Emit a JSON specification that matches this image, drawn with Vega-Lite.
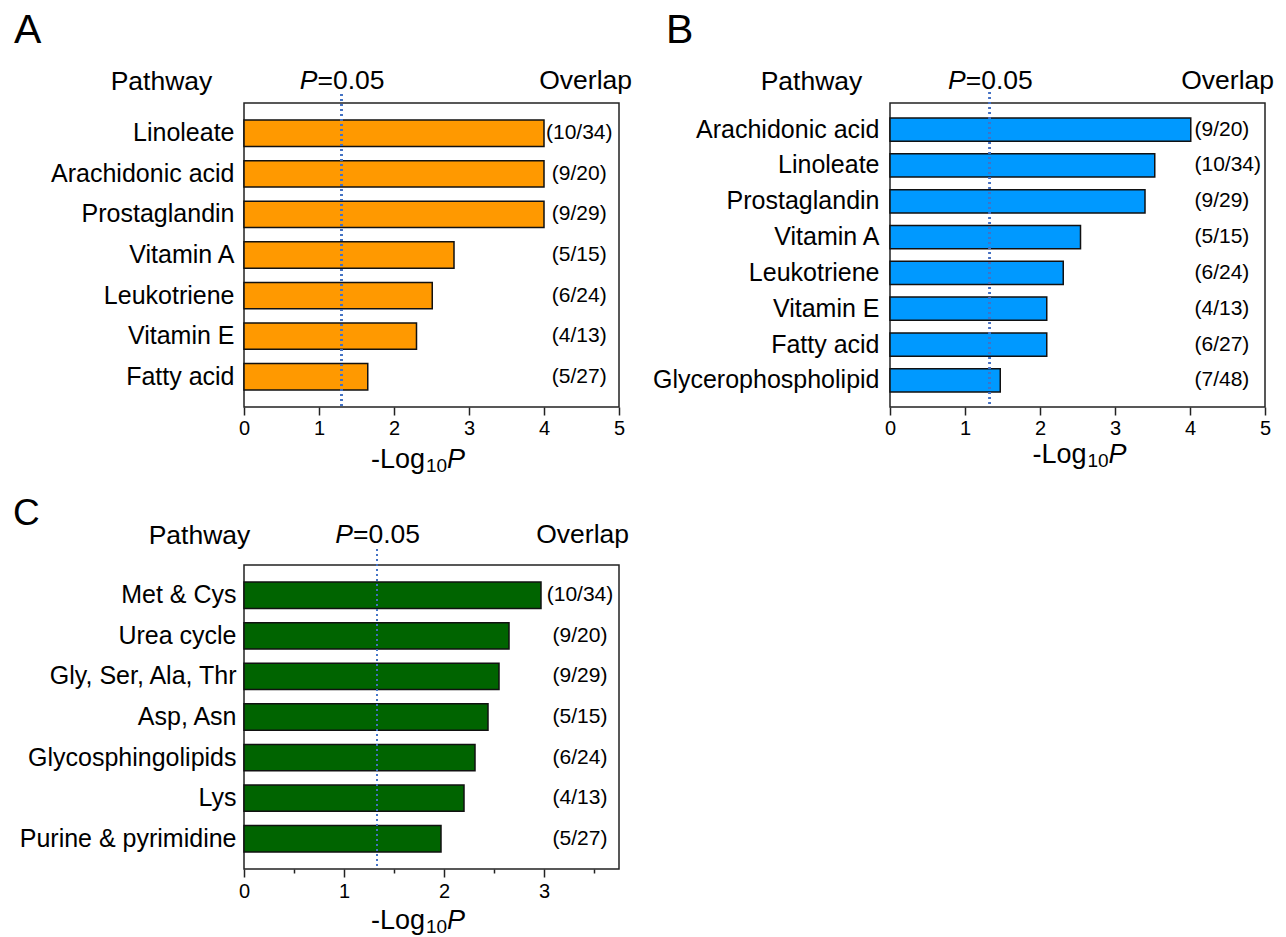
{
  "$schema": "https://vega.github.io/schema/vega-lite/v6.json",
  "background": "white",
  "padding": {"left": 12, "top": 9, "right": 5, "bottom": 2},
  "config": {
    "font": "Liberation Sans",
    "view": {"stroke": "#222", "strokeWidth": 1.5},
    "axis": {"domain": false, "grid": false, "labelColor": "#000", "titleColor": "#000", "tickColor": "#222", "labelFont": "Liberation Sans", "titleFont": "Liberation Sans"},
    "text": {"font": "Liberation Sans", "color": "#000"}
  },
  "columns": 2,
  "bounds": "flush",
  "spacing": {"row": 158, "column": 271},
  "concat": [
    {
      "width": 375,
      "height": 304,
      "data": {"values": [
        {"Pathway": "Linoleate", "NegLogP": 4.0, "Overlap": "(10/34)"},
        {"Pathway": "Arachidonic acid", "NegLogP": 4.0, "Overlap": "(9/20)"},
        {"Pathway": "Prostaglandin", "NegLogP": 4.0, "Overlap": "(9/29)"},
        {"Pathway": "Vitamin A", "NegLogP": 2.8, "Overlap": "(5/15)"},
        {"Pathway": "Leukotriene", "NegLogP": 2.51, "Overlap": "(6/24)"},
        {"Pathway": "Vitamin E", "NegLogP": 2.3, "Overlap": "(4/13)"},
        {"Pathway": "Fatty acid", "NegLogP": 1.65, "Overlap": "(5/27)"}
      ]},
      "layer": [
        {
          "mark": {"type": "bar", "fill": "#FF9900", "stroke": "#111", "strokeWidth": 1.5},
          "encoding": {
            "y": {"field": "Pathway", "type": "nominal",
              "scale": {"domain": ["Linoleate", "Arachidonic acid", "Prostaglandin", "Vitamin A", "Leukotriene", "Vitamin E", "Fatty acid"], "paddingInner": 0.35, "paddingOuter": 0.42},
              "axis": {"title": "Pathway", "titleAngle": 0, "titleX": -83, "titleY": -14, "titleAlign": "center", "titleBaseline": "alphabetic", "titleFontSize": 26.5, "titleFontWeight": "normal", "labelFontSize": 25, "labelPadding": 10, "labelLimit": 400, "ticks": false}},
            "x": {"field": "NegLogP", "type": "quantitative",
              "scale": {"domain": [0, 5], "nice": false, "zero": true},
              "axis": {"title": null, "values": [0, 0.5, 1, 1.5, 2, 2.5, 3, 3.5, 4, 4.5, 5], "labelExpr": "datum.value % 1 === 0 ? '' + datum.value : ''", "tickSize": {"condition": {"test": "datum.value % 1 === 0", "value": 8}, "value": 4}, "tickWidth": 1.5, "labelFontSize": 20, "labelPadding": 3, "labelFlush": false, "labelOverlap": false}}
          }
        },
        {
          "mark": {"type": "rule", "color": "#4472C4", "strokeWidth": 2, "strokeDash": [2, 3], "yOffset": -9, "y2Offset": 6},
          "encoding": {"x": {"datum": 1.30}}
        },
        {
          "mark": {"type": "text", "fontSize": 21, "align": "center", "baseline": "middle"},
          "encoding": {"x": {"datum": 4.47}, "y": {"field": "Pathway", "type": "nominal"}, "text": {"field": "Overlap"}}
        },
        {"data": {"values": [{}]}, "mark": {"type": "text", "text": "A", "fontSize": 41, "align": "left", "baseline": "alphabetic", "dx": -230, "dy": -90.2}, "encoding": {"x": {"datum": 0}, "y": {"datum": "Linoleate"}}},
        {"data": {"values": [{}]}, "mark": {"type": "text", "text": "P", "fontStyle": "italic", "fontSize": 26.5, "align": "right", "baseline": "alphabetic", "dx": -24, "dy": -44.2}, "encoding": {"x": {"datum": 1.30}, "y": {"datum": "Linoleate"}}},
        {"data": {"values": [{}]}, "mark": {"type": "text", "text": "=0.05", "fontSize": 26.5, "align": "left", "baseline": "alphabetic", "dx": -24, "dy": -44.2}, "encoding": {"x": {"datum": 1.30}, "y": {"datum": "Linoleate"}}},
        {"data": {"values": [{}]}, "mark": {"type": "text", "text": "Overlap", "fontSize": 26.5, "align": "right", "baseline": "alphabetic", "dx": 13, "dy": -44.2}, "encoding": {"x": {"datum": 5}, "y": {"datum": "Linoleate"}}},
        {"data": {"values": [{}]}, "mark": {"type": "text", "text": "-Log", "fontSize": 27, "align": "left", "baseline": "alphabetic", "dy": 334.8}, "encoding": {"x": {"datum": 1.693}, "y": {"datum": "Linoleate"}}},
        {"data": {"values": [{}]}, "mark": {"type": "text", "text": "10", "fontSize": 19, "align": "left", "baseline": "alphabetic", "dx": 55, "dy": 338.8}, "encoding": {"x": {"datum": 1.693}, "y": {"datum": "Linoleate"}}},
        {"data": {"values": [{}]}, "mark": {"type": "text", "text": "P", "fontStyle": "italic", "fontSize": 27, "align": "left", "baseline": "alphabetic", "dx": 76, "dy": 334.8}, "encoding": {"x": {"datum": 1.693}, "y": {"datum": "Linoleate"}}}
      ]
    },
    {
      "width": 375,
      "height": 304,
      "data": {"values": [
        {"Pathway": "Arachidonic acid", "NegLogP": 4.01, "Overlap": "(9/20)"},
        {"Pathway": "Linoleate", "NegLogP": 3.53, "Overlap": "(10/34)"},
        {"Pathway": "Prostaglandin", "NegLogP": 3.40, "Overlap": "(9/29)"},
        {"Pathway": "Vitamin A", "NegLogP": 2.54, "Overlap": "(5/15)"},
        {"Pathway": "Leukotriene", "NegLogP": 2.31, "Overlap": "(6/24)"},
        {"Pathway": "Vitamin E", "NegLogP": 2.09, "Overlap": "(4/13)"},
        {"Pathway": "Fatty acid", "NegLogP": 2.09, "Overlap": "(6/27)"},
        {"Pathway": "Glycerophospholipid", "NegLogP": 1.47, "Overlap": "(7/48)"}
      ]},
      "layer": [
        {
          "mark": {"type": "bar", "fill": "#0099FF", "stroke": "#111", "strokeWidth": 1.5},
          "encoding": {
            "y": {"field": "Pathway", "type": "nominal",
              "scale": {"domain": ["Arachidonic acid", "Linoleate", "Prostaglandin", "Vitamin A", "Leukotriene", "Vitamin E", "Fatty acid", "Glycerophospholipid"], "paddingInner": 0.35, "paddingOuter": 0.42},
              "axis": {"title": "Pathway", "titleAngle": 0, "titleX": -79, "titleY": -14, "titleAlign": "center", "titleBaseline": "alphabetic", "titleFontSize": 26.5, "titleFontWeight": "normal", "labelFontSize": 25, "labelPadding": 11, "labelLimit": 400, "ticks": false}},
            "x": {"field": "NegLogP", "type": "quantitative",
              "scale": {"domain": [0, 5], "nice": false, "zero": true},
              "axis": {"title": null, "values": [0, 0.5, 1, 1.5, 2, 2.5, 3, 3.5, 4, 4.5, 5], "labelExpr": "datum.value % 1 === 0 ? '' + datum.value : ''", "tickSize": {"condition": {"test": "datum.value % 1 === 0", "value": 8}, "value": 4}, "tickWidth": 1.5, "labelFontSize": 20, "labelPadding": 3, "labelFlush": false, "labelOverlap": false}}
          }
        },
        {
          "mark": {"type": "rule", "color": "#4472C4", "strokeWidth": 2, "strokeDash": [2, 3], "yOffset": -11, "y2Offset": 5},
          "encoding": {"x": {"datum": 1.33}}
        },
        {
          "mark": {"type": "text", "fontSize": 21, "align": "left", "baseline": "middle"},
          "encoding": {"x": {"datum": 4.06}, "y": {"field": "Pathway", "type": "nominal"}, "text": {"field": "Overlap"}}
        },
        {"data": {"values": [{}]}, "mark": {"type": "text", "text": "B", "fontSize": 41, "align": "left", "baseline": "alphabetic", "dx": -224, "dy": -86.7}, "encoding": {"x": {"datum": 0}, "y": {"datum": "Arachidonic acid"}}},
        {"data": {"values": [{}]}, "mark": {"type": "text", "text": "P", "fontStyle": "italic", "fontSize": 26.5, "align": "right", "baseline": "alphabetic", "dx": -24, "dy": -40.7}, "encoding": {"x": {"datum": 1.33}, "y": {"datum": "Arachidonic acid"}}},
        {"data": {"values": [{}]}, "mark": {"type": "text", "text": "=0.05", "fontSize": 26.5, "align": "left", "baseline": "alphabetic", "dx": -24, "dy": -40.7}, "encoding": {"x": {"datum": 1.33}, "y": {"datum": "Arachidonic acid"}}},
        {"data": {"values": [{}]}, "mark": {"type": "text", "text": "Overlap", "fontSize": 26.5, "align": "right", "baseline": "alphabetic", "dx": 9, "dy": -40.7}, "encoding": {"x": {"datum": 5}, "y": {"datum": "Arachidonic acid"}}},
        {"data": {"values": [{}]}, "mark": {"type": "text", "text": "-Log", "fontSize": 27, "align": "left", "baseline": "alphabetic", "dy": 333.3}, "encoding": {"x": {"datum": 1.90}, "y": {"datum": "Arachidonic acid"}}},
        {"data": {"values": [{}]}, "mark": {"type": "text", "text": "10", "fontSize": 19, "align": "left", "baseline": "alphabetic", "dx": 55, "dy": 337.3}, "encoding": {"x": {"datum": 1.90}, "y": {"datum": "Arachidonic acid"}}},
        {"data": {"values": [{}]}, "mark": {"type": "text", "text": "P", "fontStyle": "italic", "fontSize": 27, "align": "left", "baseline": "alphabetic", "dx": 76, "dy": 333.3}, "encoding": {"x": {"datum": 1.90}, "y": {"datum": "Arachidonic acid"}}}
      ]
    },
    {
      "width": 375,
      "height": 304,
      "data": {"values": [
        {"Pathway": "Met & Cys", "NegLogP": 2.97, "Overlap": "(10/34)"},
        {"Pathway": "Urea cycle", "NegLogP": 2.65, "Overlap": "(9/20)"},
        {"Pathway": "Gly, Ser, Ala, Thr", "NegLogP": 2.55, "Overlap": "(9/29)"},
        {"Pathway": "Asp, Asn", "NegLogP": 2.44, "Overlap": "(5/15)"},
        {"Pathway": "Glycosphingolipids", "NegLogP": 2.31, "Overlap": "(6/24)"},
        {"Pathway": "Lys", "NegLogP": 2.20, "Overlap": "(4/13)"},
        {"Pathway": "Purine & pyrimidine", "NegLogP": 1.97, "Overlap": "(5/27)"}
      ]},
      "layer": [
        {
          "mark": {"type": "bar", "fill": "#006400", "stroke": "#111", "strokeWidth": 1.5},
          "encoding": {
            "y": {"field": "Pathway", "type": "nominal",
              "scale": {"domain": ["Met & Cys", "Urea cycle", "Gly, Ser, Ala, Thr", "Asp, Asn", "Glycosphingolipids", "Lys", "Purine & pyrimidine"], "paddingInner": 0.35, "paddingOuter": 0.42},
              "axis": {"title": "Pathway", "titleAngle": 0, "titleX": -45, "titleY": -22, "titleAlign": "center", "titleBaseline": "alphabetic", "titleFontSize": 26.5, "titleFontWeight": "normal", "labelFontSize": 25, "labelPadding": 8, "labelLimit": 400, "ticks": false}},
            "x": {"field": "NegLogP", "type": "quantitative",
              "scale": {"domain": [0, 3.75], "nice": false, "zero": true},
              "axis": {"title": null, "values": [0, 0.5, 1, 1.5, 2, 2.5, 3, 3.5], "labelExpr": "datum.value % 1 === 0 ? '' + datum.value : ''", "tickSize": {"condition": {"test": "datum.value % 1 === 0", "value": 8}, "value": 4}, "tickWidth": 1.5, "labelFontSize": 20, "labelPadding": 4, "labelFlush": false, "labelOverlap": false}}
          }
        },
        {
          "mark": {"type": "rule", "color": "#4472C4", "strokeWidth": 2, "strokeDash": [2, 3], "yOffset": -16, "y2Offset": 0},
          "encoding": {"x": {"datum": 1.33}}
        },
        {
          "mark": {"type": "text", "fontSize": 21, "align": "center", "baseline": "middle"},
          "encoding": {"x": {"datum": 3.36}, "y": {"field": "Pathway", "type": "nominal"}, "text": {"field": "Overlap"}}
        },
        {"data": {"values": [{}]}, "mark": {"type": "text", "text": "C", "fontSize": 37, "align": "left", "baseline": "alphabetic", "dx": -231, "dy": -70.2}, "encoding": {"x": {"datum": 0}, "y": {"datum": "Met & Cys"}}},
        {"data": {"values": [{}]}, "mark": {"type": "text", "text": "P", "fontStyle": "italic", "fontSize": 26.5, "align": "right", "baseline": "alphabetic", "dx": -24, "dy": -52.2}, "encoding": {"x": {"datum": 1.33}, "y": {"datum": "Met & Cys"}}},
        {"data": {"values": [{}]}, "mark": {"type": "text", "text": "=0.05", "fontSize": 26.5, "align": "left", "baseline": "alphabetic", "dx": -24, "dy": -52.2}, "encoding": {"x": {"datum": 1.33}, "y": {"datum": "Met & Cys"}}},
        {"data": {"values": [{}]}, "mark": {"type": "text", "text": "Overlap", "fontSize": 26.5, "align": "right", "baseline": "alphabetic", "dx": 10, "dy": -52.2}, "encoding": {"x": {"datum": 3.75}, "y": {"datum": "Met & Cys"}}},
        {"data": {"values": [{}]}, "mark": {"type": "text", "text": "-Log", "fontSize": 27, "align": "left", "baseline": "alphabetic", "dy": 333.8}, "encoding": {"x": {"datum": 1.27}, "y": {"datum": "Met & Cys"}}},
        {"data": {"values": [{}]}, "mark": {"type": "text", "text": "10", "fontSize": 19, "align": "left", "baseline": "alphabetic", "dx": 55, "dy": 337.8}, "encoding": {"x": {"datum": 1.27}, "y": {"datum": "Met & Cys"}}},
        {"data": {"values": [{}]}, "mark": {"type": "text", "text": "P", "fontStyle": "italic", "fontSize": 27, "align": "left", "baseline": "alphabetic", "dx": 76, "dy": 333.8}, "encoding": {"x": {"datum": 1.27}, "y": {"datum": "Met & Cys"}}}
      ]
    }
  ]
}
